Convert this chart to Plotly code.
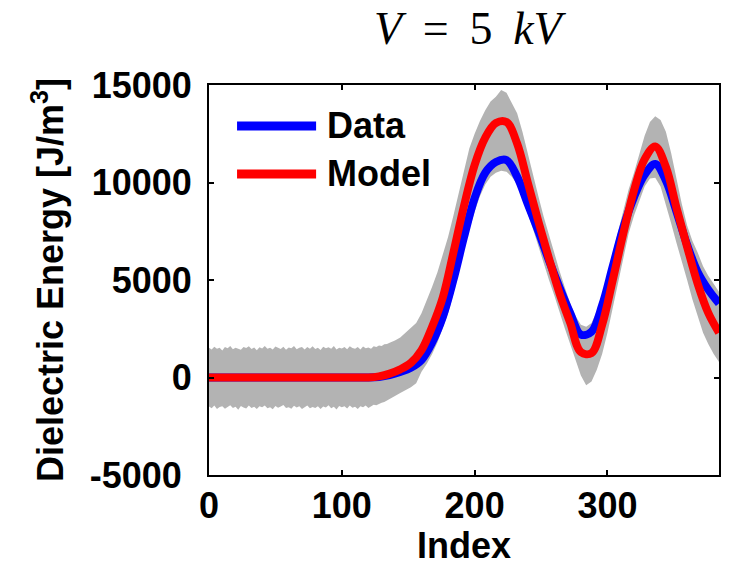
import plotly.graph_objects as go

# Sample index grids (finer where the spread is noise only)
idx_curve = list(range(0, 385, 8))
idx_band = list(range(0, 140, 2)) + list(range(140, 385, 4))

# Mean measured dielectric energy [J/m^3]
data_mean = [0, 0, 0, 0, 0, 0, 0, 0, 0, 0, 0, 0, 0, 0, 0, 0,
             30, 120, 280, 500, 900, 1800, 3100, 5000, 7200, 9200, 10500, 11050,
             11150, 10300, 8900, 7500, 6000, 4600, 3300, 2200, 2350, 3700, 5700, 7700,
             9250, 10400, 10950, 10100, 8500, 6800, 5400, 4500, 3800]

# Model prediction [J/m^3]
model = [0, 0, 0, 0, 0, 0, 0, 0, 0, 0, 0, 0, 0, 0, 0, 0,
         60, 200, 420, 750, 1400, 2600, 4100, 6400, 8800, 10900, 12300, 13050,
         13100, 12000, 10000, 8000, 6100, 4300, 2800, 1300, 1250, 2700, 5000, 7400,
         9600, 11200, 11850, 10800, 8700, 6700, 4800, 3300, 2300]

# Spread of the individual measurements (upper / lower envelope)
band_upper = [1520, 1440, 1580, 1470, 1530, 1390, 1560, 1500, 1610, 1450,
              1530, 1480, 1420, 1570, 1510, 1600, 1460, 1540, 1400, 1550,
              1490, 1620, 1470, 1530, 1440, 1590, 1510, 1460, 1580, 1420,
              1540, 1500, 1610, 1450, 1520, 1570, 1430, 1560, 1480, 1600,
              1460, 1530, 1410, 1580, 1500, 1550, 1470, 1620, 1440, 1530,
              1490, 1570, 1450, 1600, 1510, 1470, 1560, 1430, 1590, 1500,
              1540, 1480, 1600, 1560, 1640, 1620, 1700, 1720, 1780, 1820,
              1900, 2050, 2300, 2500, 2800, 3300, 3950, 4650, 5400, 6350,
              7200, 8300, 9450, 10700, 11750, 12500, 13150, 13700, 14150, 14400,
              14750, 14600, 14100, 13550, 12600, 11450, 10300, 9300, 8250, 7300,
              6300, 5450, 4600, 3800, 3150, 2700, 2600, 2800, 3400, 4250,
              5300, 6400, 7450, 8600, 9650, 10500, 11500, 12400, 13100, 13400,
              13200, 12600, 11500, 10200, 8900, 7800, 7000, 6400, 5700, 5200,
              4800, 4400]
band_lower = [-1490, -1580, -1440, -1620, -1510, -1470, -1600, -1530, -1420, -1570,
              -1500, -1650, -1460, -1540, -1590, -1430, -1560, -1500, -1610, -1470,
              -1530, -1440, -1580, -1520, -1630, -1460, -1550, -1490, -1410, -1570,
              -1520, -1600, -1450, -1540, -1480, -1620, -1500, -1430, -1580, -1510,
              -1560, -1470, -1610, -1490, -1540, -1420, -1580, -1500, -1640, -1460,
              -1530, -1480, -1590, -1440, -1550, -1500, -1610, -1470, -1520, -1430,
              -1560, -1480, -1400, -1420, -1340, -1300, -1250, -1180, -1130, -1040,
              -950, -800, -650, -500, -300, 300, 700, 1200, 1800, 2500,
              3300, 4300, 5400, 6500, 7600, 8500, 9300, 9900, 10300, 10500,
              10600, 10550, 10300, 9900, 9200, 8400, 7600, 6700, 5800, 5000,
              4200, 3300, 2500, 1700, 900, 100, -400, -200, 400, 1200,
              2300, 3600, 4900, 6200, 7400, 8300, 9100, 9800, 10200, 10250,
              9800, 8900, 7900, 6900, 6000, 5000, 4000, 3100, 2300, 1700,
              1200, 800]

x_ticks = [0, 100, 200, 300]
y_ticks = [-5000, 0, 5000, 10000, 15000]
y_tick_text = ["-5000\u00a0", "0", "5000", "10000", "15000"]

FONT = "Liberation Sans, Arial, Helvetica, sans-serif"
FS = 36

fig = go.Figure()

fig.add_trace(go.Scatter(x=idx_band, y=band_lower, mode="lines",
                         line=dict(width=0, color="rgba(0,0,0,0)"),
                         showlegend=False, hoverinfo="skip"))
fig.add_trace(go.Scatter(x=idx_band, y=band_upper, mode="lines", fill="tonexty",
                         fillcolor="#b3b3b3",
                         line=dict(width=0, color="rgba(0,0,0,0)"),
                         showlegend=False, hoverinfo="skip"))
fig.add_trace(go.Scatter(x=idx_curve, y=data_mean, mode="lines", name="Data",
                         line=dict(color="#0000ff", width=8, shape="spline"),
                         showlegend=False))
fig.add_trace(go.Scatter(x=idx_curve, y=model, mode="lines", name="Model",
                         line=dict(color="#ff0000", width=8, shape="spline"),
                         showlegend=False))

# Legend drawn by hand so the line samples can be long
legend_items = [("Data", "#0000ff", 0.895), ("Model", "#ff0000", 0.772)]
for label, color, yy in legend_items:
    fig.add_shape(type="line", xref="paper", yref="paper",
                  x0=0.055, x1=0.210, y0=yy, y1=yy,
                  line=dict(color=color, width=9))
    fig.add_annotation(xref="paper", yref="paper", x=0.2275, y=yy,
                       xanchor="left", yanchor="middle", showarrow=False,
                       text=label,
                       font=dict(family=FONT, size=FS, color="black", weight="bold"))

# Panel title (math-style spacing around the operator)
fig.add_annotation(xref="paper", yref="paper", x=0.512, y=1.145,
                   xanchor="center", yanchor="middle", showarrow=False,
                   text="<i>V</i>\u2009 = \u20095\u2009 <i>kV</i>",
                   font=dict(family="Liberation Serif, Times New Roman, serif",
                             size=46, color="black", weight="normal"))

# Edge of the neighbouring panel label
fig.add_annotation(xref="paper", yref="paper", x=(3 - 209) / 510, y=(475 - 497) / 390,
                   xanchor="right", yanchor="middle", showarrow=False,
                   text=")", font=dict(family=FONT, size=FS, color="black", weight="bold"))

fig.update_layout(
    width=730, height=566,
    margin=dict(l=209, r=11, t=85, b=91),
    paper_bgcolor="white", plot_bgcolor="white",
    font=dict(family=FONT, size=FS, color="black"),
    showlegend=False,
)
fig.update_xaxes(range=[0, 384], tickvals=x_ticks, ticks="inside", ticklen=5,
                 tickwidth=1.5, tickcolor="black", showline=True, linewidth=2,
                 linecolor="black", mirror="ticks", showgrid=False, zeroline=False,
                 automargin=False,
                 title=dict(text="Index",
                            font=dict(family=FONT, size=FS, weight="bold")),
                 tickfont=dict(family=FONT, size=FS, weight="bold"),
                 ticklabelstandoff=-2)
fig.update_yaxes(range=[-5000, 15000], tickvals=y_ticks, ticktext=y_tick_text,
                 ticks="inside", ticklen=5, tickwidth=1.5, tickcolor="black",
                 showline=True, linewidth=2, linecolor="black", mirror="ticks",
                 showgrid=False, zeroline=False, automargin=False,
                 title=dict(text="Dielectric Energy [J/m<sup>3</sup>]",
                            font=dict(family=FONT, size=FS, weight="bold")),
                 tickfont=dict(family=FONT, size=FS, weight="bold"),
                 ticklabelstandoff=8)

fig.write_html("out.html")
